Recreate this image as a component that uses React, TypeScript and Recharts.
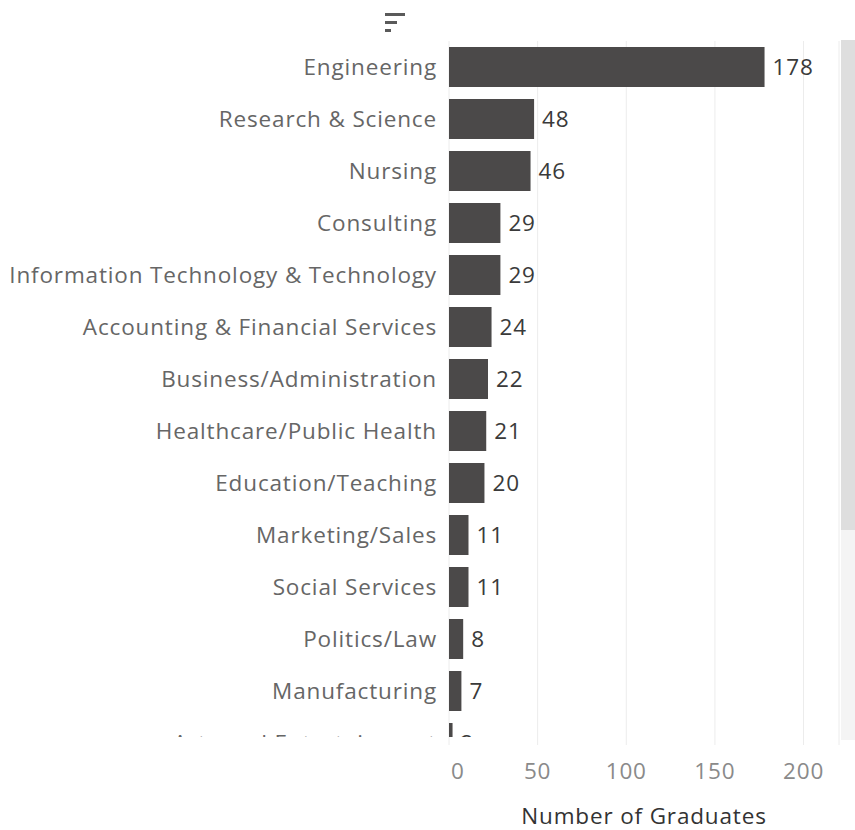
import { BarChart, Bar, XAxis, YAxis, CartesianGrid, LabelList, Label } from "recharts";

const industries = [
    "Engineering",
    "Research & Science",
    "Nursing",
    "Consulting",
    "Information Technology & Technology",
    "Accounting & Financial Services",
    "Business/Administration",
    "Healthcare/Public Health",
    "Education/Teaching",
    "Marketing/Sales",
    "Social Services",
    "Politics/Law",
    "Manufacturing",
    "Arts and Entertainment",
];
const graduates = [178, 48, 46, 29, 29, 24, 22, 21, 20, 11, 11, 8, 7, 2];
const xTicks = [0, 50, 100, 150, 200];

const FONT = "'Open Sans', 'Noto Sans', sans-serif";
const BAR = "#4b4949";
const GRID = "#ececec";
const SPACING = 0.85;

// Tableau keeps the "0" label inside the axis, so nudge it right
function XTick(props: any) {
    const { x, y, payload } = props;
    const first = payload.value === 0;
    return (
        <text
            x={first ? x + 2 : x}
            y={y}
            dy="0.71em"
            textAnchor={first ? "start" : "middle"}
            fill="#8a8a8a"
            fontSize={22.5}
            fontFamily={FONT}
            letterSpacing={SPACING}
        >
            {payload.value}
        </text>
    );
}

export default function App() {
    const data = industries.map((name, i) => ({ name, value: graduates[i] }));

    return (
        <div style={{ position: "fixed", left: 0, top: 0, width: 855, height: 830, background: "#fff", overflow: "hidden", fontFamily: FONT }}>
            {/* sort icon */}
            <div style={{ position: "absolute", left: 385, top: 13, width: 20, height: 3, background: "#5a5a5a" }} />
            <div style={{ position: "absolute", left: 385, top: 21, width: 12, height: 3, background: "#5a5a5a" }} />
            <div style={{ position: "absolute", left: 385, top: 29, width: 6, height: 3, background: "#5a5a5a" }} />

            {/* scrollbar */}
            <div style={{ position: "absolute", left: 841, top: 40, width: 14, height: 700, background: "#f4f4f4" }} />
            <div style={{ position: "absolute", left: 841, top: 40, width: 14, height: 490, background: "#dedede" }} />

            {/* scrolled bar area */}
            <div style={{ position: "absolute", left: 0, top: 0, width: 855, height: 737, overflow: "hidden" }}>
                <BarChart
                    width={855}
                    height={769}
                    data={data}
                    layout="vertical"
                    margin={{ top: 41, right: 16, bottom: 0, left: 0 }}
                >
                    <CartesianGrid horizontal={false} stroke={GRID} />
                    <XAxis type="number" domain={[0, 220]} ticks={xTicks} hide />
                    <YAxis
                        type="category"
                        dataKey="name"
                        width={449}
                        interval={0}
                        axisLine={false}
                        tickLine={false}
                        tickMargin={6}
                        tick={{ fill: "#666", fontSize: 22.5, fontFamily: FONT, letterSpacing: SPACING }}
                    />
                    <Bar dataKey="value" fill={BAR} barSize={40} isAnimationActive={false}>
                        <LabelList
                            dataKey="value"
                            position="right"
                            offset={8}
                            fill="#3a3a3a"
                            fontSize={22.5}
                            fontFamily={FONT}
                            letterSpacing={SPACING}
                        />
                    </Bar>
                </BarChart>
            </div>

            {/* fixed x axis */}
            <div style={{ position: "absolute", left: 0, top: 737, width: 855, height: 93 }}>
                <BarChart
                    width={855}
                    height={93}
                    data={data}
                    layout="vertical"
                    margin={{ top: 0, right: 16, bottom: 0, left: 449 }}
                >
                    <CartesianGrid horizontal={false} stroke={GRID} />
                    <XAxis
                        type="number"
                        domain={[0, 220]}
                        ticks={xTicks}
                        height={85}
                        axisLine={false}
                        tickLine={false}
                        tickMargin={12}
                        tick={<XTick />}
                    >
                        <Label
                            value="Number of Graduates"
                            position="insideBottom"
                            offset={6}
                            fill="#333"
                            fontSize={22.5}
                            fontFamily={FONT}
                            letterSpacing={SPACING}
                        />
                    </XAxis>
                    <YAxis type="category" dataKey="name" hide />
                    <Bar dataKey="value" fill="transparent" isAnimationActive={false} />
                </BarChart>
            </div>
        </div>
    );
}
